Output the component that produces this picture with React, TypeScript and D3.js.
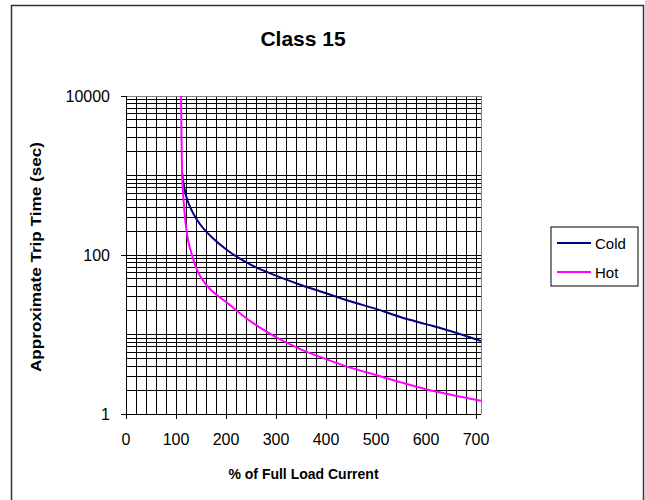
import React from "react";
import * as d3 from "d3";

const coldX = [112, 115, 120, 130, 140, 150, 175, 200, 250, 300, 350, 400, 450, 500, 550, 600, 650, 710];
const coldY = [1100, 800, 560, 380, 290, 235, 160, 118, 75, 55, 42, 33, 26, 21, 16.5, 13.5, 11, 8.3];
const hotX = [110, 111, 112, 115, 120, 124, 130, 140, 150, 175, 200, 250, 300, 350, 400, 450, 500, 550, 600, 650, 710];
const hotY = [12000, 3000, 1200, 500, 230, 155, 110, 70, 52, 34, 25.7, 14.5, 9.3, 6.5, 4.9, 3.8, 3.1, 2.5, 2.05, 1.75, 1.47];
const xTicks = [0, 100, 200, 300, 400, 500, 600, 700];
const yTicks = [1, 100, 10000];
const seriesNames = ["Cold", "Hot"];
const seriesColors = ["#000080", "#FF00FF"];

export default function App() {
  const W = 645, H = 500;
  const L = 126, R = 481, T = 96, B = 414;
  const x = d3.scaleLinear().domain([0, 710]).range([L, R]);
  const y = d3.scaleLog().domain([1, 10000]).range([B, T]);
  const font = "Arial, 'Liberation Sans', sans-serif";

  const vGrid = d3.range(20, 710, 20);
  const hGrid: number[] = [];
  for (let d = 1; d < 10000; d *= 10) {
    for (let m = 1; m <= 9; m++) if (d * m > 1) hGrid.push(d * m);
  }

  const line = d3
    .line<[number, number]>()
    .x((d) => x(d[0]))
    .y((d) => y(d[1]))
    .curve(d3.curveMonotoneX);

  const cold = coldX.map((v, i) => [v, coldY[i]] as [number, number]);
  const hot = hotX.map((v, i) => [v, hotY[i]] as [number, number]);

  return (
    <svg width={W} height={H} style={{ position: "absolute", left: 0, top: 0 }} fontFamily={font}>
      <rect x={0} y={0} width={W} height={H} fill="#fff" />
      <rect x={11.5} y={5.5} width={632} height={510} fill="none" stroke="#333" strokeWidth={1.5} />
      <defs>
        <clipPath id="plot">
          <rect x={L} y={T} width={R - L} height={B - T} />
        </clipPath>
      </defs>
      <g shapeRendering="crispEdges">
        {vGrid.map((v) => (
          <line key={"v" + v} x1={x(v)} x2={x(v)} y1={T} y2={B} stroke="#000" strokeWidth={1} />
        ))}
        {hGrid.map((v) => (
          <line key={"h" + v} x1={L} x2={R} y1={y(v)} y2={y(v)} stroke="#000" strokeWidth={1} />
        ))}
        <line x1={R} x2={R} y1={T} y2={B} stroke="#808080" />
        <line x1={L} x2={R} y1={T} y2={T} stroke="#808080" />
        <line x1={L} x2={L} y1={T} y2={B} stroke="#000" />
        <line x1={L} x2={R} y1={B} y2={B} stroke="#000" />
        {xTicks.map((v) => (
          <line key={"xt" + v} x1={x(v)} x2={x(v)} y1={B} y2={B + 5} stroke="#000" />
        ))}
        {yTicks.map((v) => (
          <line key={"yt" + v} x1={L - 5} x2={L} y1={y(v)} y2={y(v)} stroke="#000" />
        ))}
      </g>
      <g clipPath="url(#plot)" fill="none" strokeWidth={2}>
        <path d={line(cold) || ""} stroke={seriesColors[0]} />
        <path d={line(hot) || ""} stroke={seriesColors[1]} />
      </g>
      {xTicks.map((v) => (
        <text key={"xl" + v} x={x(v)} y={B + 31} textAnchor="middle" fontSize={16}>
          {v}
        </text>
      ))}
      {yTicks.map((v) => (
        <text key={"yl" + v} x={L - 16} y={y(v) + 6} textAnchor="end" fontSize={16}>
          {v}
        </text>
      ))}
      <text x={303} y={46} textAnchor="middle" fontSize={21} fontWeight="bold">
        Class 15
      </text>
      <text x={(L + R) / 2} y={479} textAnchor="middle" fontSize={14} fontWeight="bold">
        % of Full Load Current
      </text>
      <text
        transform={`translate(41, ${(T + B) / 2 + 2}) rotate(-90)`}
        textAnchor="middle"
        fontSize={15}
        fontWeight="bold"
        textLength={230}
        lengthAdjust="spacingAndGlyphs"
      >
        Approximate Trip Time (sec)
      </text>
      <rect x={551} y={227} width={87} height={59} fill="#fff" stroke="#000" strokeWidth={1} />
      {seriesNames.map((n, i) => (
        <g key={n}>
          <line x1={557} x2={591} y1={243 + i * 29} y2={243 + i * 29} stroke={seriesColors[i]} strokeWidth={2} />
          <text x={595} y={249 + i * 29} fontSize={15}>
            {n}
          </text>
        </g>
      ))}
    </svg>
  );
}
